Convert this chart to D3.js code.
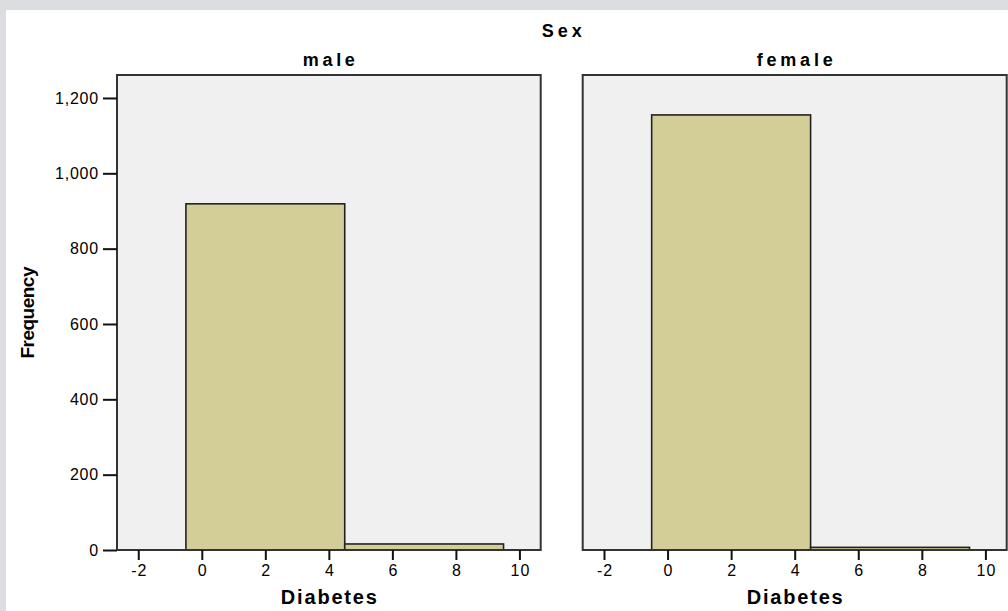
<!DOCTYPE html>
<html>
<head>
<meta charset="utf-8">
<script src="https://cdn.jsdelivr.net/npm/d3@7"></script>
<style>
  html, body { margin: 0; padding: 0; background: #dcdde0; }
  svg { display: block; }
  text { font-family: "Liberation Sans", Arial, sans-serif; fill: #000; }
  .lbl { font-family: "Liberation Sans Narrow", "Liberation Sans", Arial, sans-serif; }
</style>
</head>
<body>
<script>
// ---- data ----
const panels = ["male", "female"];
const binEdges = [-0.5, 4.5, 9.5];
const maleCounts = [919, 16];
const femaleCounts = [1155, 7];
const xTicks = [-2, 0, 2, 4, 6, 8, 10];
const yTicks = [0, 200, 400, 600, 800, 1000, 1200];
const xDomain = [-2.67, 10.67];
const yDomain = [0, 1261];
const titleText = "Sex";
const xLabel = "Diabetes";
const yLabel = "Frequency";

const W = 1008, H = 611;
const svg = d3.select("body").append("svg").attr("width", W).attr("height", H);

svg.append("rect").attr("x", 0).attr("y", 0).attr("width", W).attr("height", H).attr("fill", "#dcdde0");
svg.append("rect").attr("x", 6).attr("y", 10).attr("width", W - 6).attr("height", H - 10).attr("fill", "#ffffff");

const plotTop = 75, plotBottom = 550;
const panelX = [[117, 540.7], [582.7, 1006.7]];
const y = d3.scaleLinear().domain(yDomain).range([plotBottom, plotTop]);

const counts = [maleCounts, femaleCounts];
const fmtX = d => String(d);   // plain hyphen-minus like the original

svg.append("text").attr("class", "lbl").attr("x", (panelX[0][0] + panelX[1][1]) / 2).attr("y", 37)
  .attr("text-anchor", "middle").attr("font-weight", "bold").attr("font-size", 18)
  .attr("textLength", 40).attr("lengthAdjust", "spacing").text(titleText);

panels.forEach((name, i) => {
  const [x0, x1] = panelX[i];
  const x = d3.scaleLinear().domain(xDomain).range([x0, x1]);
  const g = svg.append("g");

  g.append("rect").attr("x", x0).attr("y", plotTop).attr("width", x1 - x0).attr("height", plotBottom - plotTop)
    .attr("fill", "#f0f0f0");

  const bins = counts[i].map((c, j) => ({ lo: binEdges[j], hi: binEdges[j + 1], c }));
  g.selectAll("rect.bar").data(bins).enter().append("rect").attr("class", "bar")
    .attr("x", d => x(d.lo)).attr("width", d => x(d.hi) - x(d.lo))
    .attr("y", d => y(d.c)).attr("height", d => y(0) - y(d.c))
    .attr("fill", "#d3ce97").attr("stroke", "#222").attr("stroke-width", 1.6);

  g.append("rect").attr("x", x0).attr("y", plotTop).attr("width", x1 - x0).attr("height", plotBottom - plotTop)
    .attr("fill", "none").attr("stroke", "#333").attr("stroke-width", 2);

  const xa = g.append("g").attr("transform", `translate(0,${plotBottom})`)
    .call(d3.axisBottom(x).tickValues(xTicks).tickSize(10).tickPadding(5).tickFormat(fmtX));
  xa.select(".domain").remove();
  xa.selectAll(".tick line").attr("stroke", "#111").attr("stroke-width", 2);
  xa.selectAll(".tick text").attr("font-size", 16).attr("letter-spacing", 1)
    .attr("font-family", "'Liberation Sans', Arial, sans-serif").attr("fill", "#000")
    .attr("dx", 0.5);

  if (i === 0) {
    const ya = g.append("g").attr("transform", `translate(${x0},0)`)
      .call(d3.axisLeft(y).tickValues(yTicks).tickSize(14).tickPadding(4).tickFormat(d3.format(",")));
    ya.select(".domain").remove();
    ya.selectAll(".tick line").attr("stroke", "#111").attr("stroke-width", 2);
    ya.selectAll(".tick text").attr("font-size", 16).attr("letter-spacing", 0.8)
      .attr("font-family", "'Liberation Sans', Arial, sans-serif").attr("fill", "#000");
  }

  g.append("text").attr("class", "lbl").attr("x", (x0 + x1) / 2).attr("y", 66)
    .attr("text-anchor", "middle").attr("font-weight", "bold").attr("font-size", 18)
    .attr("textLength", name === "male" ? 52 : 76).attr("lengthAdjust", "spacing").text(name);

  g.append("text").attr("class", "lbl").attr("x", (x0 + x1) / 2).attr("y", 604)
    .attr("text-anchor", "middle").attr("font-weight", "bold").attr("font-size", 20)
    .attr("textLength", 96).attr("lengthAdjust", "spacing").text(xLabel);
});

svg.append("text").attr("class", "lbl").attr("transform", `translate(34,${(plotTop + plotBottom) / 2}) rotate(-90)`)
  .attr("text-anchor", "middle").attr("font-weight", "bold").attr("font-size", 19)
  .attr("textLength", 92).attr("lengthAdjust", "spacing").text(yLabel);
</script>
</body>
</html>
